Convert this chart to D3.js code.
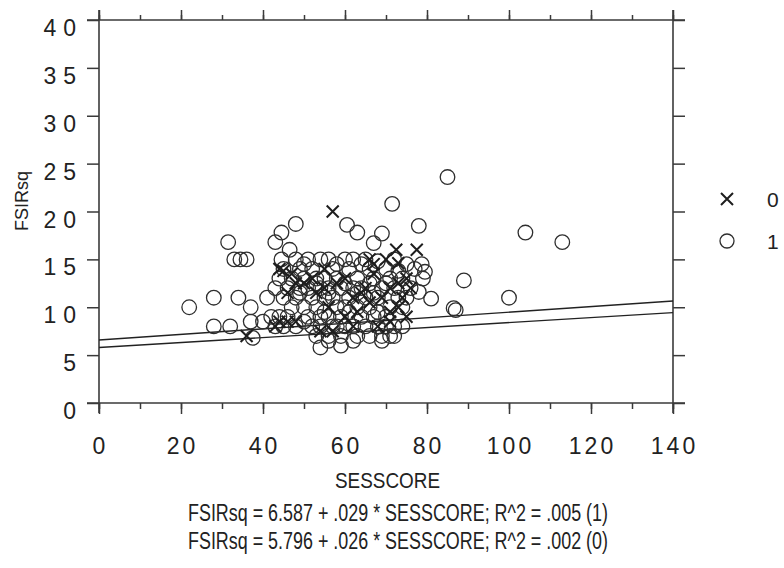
<!DOCTYPE html>
<html>
<head>
<meta charset="utf-8">
<script src="https://cdn.jsdelivr.net/npm/d3@7"></script>
<style>
  html, body { margin: 0; padding: 0; background: #fff; }
  svg { display: block; font-family: "Liberation Sans", Arial, sans-serif; }
</style>
</head>
<body>
<svg id="chart" width="784" height="568"></svg>
<script>
// group 1 (circles): [SESSCORE, FSIRsq]
const group1 = [
  [22, 10], [28, 11], [31.5, 16.8], [33, 15], [34.5, 15], [36, 15], [28, 8], [32, 8],
  [34, 11], [37, 10], [37, 8.5], [37.5, 6.8], [41, 11], [43, 12], [43, 16.8], [44.5, 17.8],
  [48, 18.7], [46.5, 16], [44.5, 15], [48, 15], [42, 9], [40, 8.5],
  [60.5, 18.6], [63, 17.8], [67, 16.7], [69, 17.7], [71.5, 20.8], [85, 23.6], [78, 18.5],
  [78.7, 14.5], [79.5, 13.7], [78, 11.6], [81, 10.9], [89, 12.8], [87, 9.7], [86.5, 9.9],
  [100, 11], [104, 17.8], [113, 16.8],
  [51, 15], [54, 15], [56, 15], [60, 15], [62, 15], [65, 15], [68, 14.8], [72, 15], [75, 14.5], [70, 14],
  [45, 14], [49, 14], [52, 14], [57, 14], [61, 14], [66, 14], [73, 13.8], [77, 14],
  [44, 13], [47, 13], [50, 13], [53, 13], [55, 13], [58, 13], [63, 13], [67, 13], [71, 13], [74, 13], [79, 13],
  [46, 12], [49, 12], [51, 12], [54, 12], [56, 12], [59, 12], [62, 12], [64, 12], [69, 12], [72, 12], [76, 12],
  [45, 11], [48, 11], [52, 11], [55, 11], [57, 11], [61, 11], [65, 11], [68, 11], [73, 11], [75, 11],
  [47, 10], [50, 10], [53, 10], [58, 10], [60, 10], [63, 10], [66, 10], [71, 10], [74, 10],
  [44, 9], [46, 9], [51, 9], [54, 9], [56, 9], [59, 9], [64, 9], [67, 9], [70, 9],
  [43, 8], [45, 8], [48, 8], [52, 8], [54, 8], [57, 8], [58, 8], [60, 8], [62, 8], [65, 8],
  [68, 8], [70, 8], [72, 8], [74, 8],
  [53, 7], [56, 7], [59, 7], [63, 7], [66, 7], [69, 7], [72, 7],
  [54, 5.8], [59, 6], [56, 6.5], [62, 6.5], [69, 6.5], [71, 7],
  [50, 14.5], [58, 14.5], [64, 14.5], [53, 12.5], [60, 12.5], [66, 12.5], [70, 12.5],
  [49, 11.5], [56, 11.5], [63, 11.5], [67, 11.5], [55, 9.5], [61, 9.5], [68, 9.5], [50, 8.5]
];
// group 0 (crosses): [SESSCORE, FSIRsq]
const group0 = [
  [36, 7], [57, 20], [72.5, 16], [77.5, 16], [75, 9], [71, 9.5], [45, 13.8], [47, 13.5],
  [44, 14], [48, 12.5], [46, 11.5], [44, 8.5], [46, 8.5], [48, 8.5], [43, 8], [55, 12],
  [58, 12.5], [60, 13], [62, 11], [65, 12], [67, 13.5], [64, 11.5], [66, 10.5], [69, 11],
  [71, 12], [73, 12.5], [74, 11], [75, 13], [76, 12], [73, 10], [56, 10], [53, 11.5],
  [52, 13], [50, 12.5], [60, 9], [63, 9.5], [67, 14.5], [66, 15], [70, 15], [55, 14],
  [57, 7.5], [62, 8], [68, 8], [71, 8.5], [54, 7.5], [73, 14.6]
];
const groupNames = ["0", "1"];
const intercepts = [5.796, 6.587];
const slopes = [0.026, 0.029];
const equations = [
  "FSIRsq = 6.587 + .029 * SESSCORE; R^2 = .005 (1)",
  "FSIRsq = 5.796 + .026 * SESSCORE; R^2 = .002 (0)"
];
const xTicks = [0, 20, 40, 60, 80, 100, 120, 140];
const yTicks = [0, 5, 10, 15, 20, 25, 30, 35, 40];

const svg = d3.select("#chart");
const ink = "#222";

const x = d3.scaleLinear().domain([0, 140]).range([99, 673]);
const y = d3.scaleLinear().domain([0, 40]).range([403, 20]);

// frame
const frame = svg.append("g").attr("stroke", "#3a3a3a").attr("stroke-width", 1.6).attr("fill", "none");
frame.append("line").attr("x1", x(0) - 12).attr("x2", x(140) + 12).attr("y1", y(40)).attr("y2", y(40));
frame.append("line").attr("x1", x(0) - 12).attr("x2", x(140) + 12).attr("y1", y(0)).attr("y2", y(0));
frame.append("line").attr("x1", x(0)).attr("x2", x(0)).attr("y1", y(40) - 10).attr("y2", y(0) + 10);
frame.append("line").attr("x1", x(140)).attr("x2", x(140)).attr("y1", y(40) - 10).attr("y2", y(0) + 10);

// axes with d3 (ticks only, domain hidden)
const xMinor = d3.range(0, 141, 10);
const axTop = svg.append("g").attr("transform", `translate(0,${y(40)})`)
  .call(d3.axisTop(x).tickValues(xMinor).tickSize(5).tickFormat(""));
const axTopMaj = svg.append("g").attr("transform", `translate(0,${y(40)})`)
  .call(d3.axisTop(x).tickValues(xTicks).tickSize(10).tickFormat(""));
const axBot = svg.append("g").attr("transform", `translate(0,${y(0)})`)
  .call(d3.axisBottom(x).tickValues(xMinor).tickSize(6).tickFormat(""));
const axBotMaj = svg.append("g").attr("transform", `translate(0,${y(0)})`)
  .call(d3.axisBottom(x).tickValues(xTicks).tickSize(11).tickFormat(""));
const axLeft = svg.append("g").attr("transform", `translate(${x(0)},0)`)
  .call(d3.axisLeft(y).tickValues(yTicks).tickSize(12).tickFormat(""));
const axRight = svg.append("g").attr("transform", `translate(${x(140)},0)`)
  .call(d3.axisRight(y).tickValues(yTicks).tickSize(12).tickFormat(""));
[axTop, axTopMaj, axBot, axBotMaj, axLeft, axRight].forEach((g) => {
  g.select(".domain").remove();
  g.selectAll("line").attr("stroke", "#3a3a3a").attr("stroke-width", 1.5);
});

// tick labels
svg.append("g").selectAll("text").data(yTicks).join("text")
  .attr("x", 83).attr("y", (d) => y(d) + 16)
  .attr("text-anchor", "end")
  .attr("font-size", 23).attr("letter-spacing", 7).attr("fill", ink)
  .text((d) => d);
svg.append("g").selectAll("text").data(xTicks).join("text")
  .attr("x", (d) => x(d) + 1.5).attr("y", 454)
  .attr("text-anchor", "middle")
  .attr("font-size", 23).attr("letter-spacing", 3).attr("fill", ink)
  .text((d) => d);

// axis titles
svg.append("text")
  .attr("transform", "translate(28,201) rotate(-90)")
  .attr("text-anchor", "middle").attr("font-size", 18).attr("fill", ink)
  .text("FSIRsq");
svg.append("text")
  .attr("x", 335).attr("y", 488)
  .attr("font-size", 22).attr("fill", ink)
  .attr("textLength", 105).attr("lengthAdjust", "spacingAndGlyphs")
  .text("SESSCORE");

// regression lines
svg.append("g").selectAll("line").data(intercepts).join("line")
  .attr("x1", x(0)).attr("x2", x(140))
  .attr("y1", (d) => y(d))
  .attr("y2", (d, i) => y(d + slopes[i] * 140))
  .attr("stroke", ink).attr("stroke-width", 1.4);

// group 1 circles
svg.append("g").selectAll("circle").data(group1).join("circle")
  .attr("cx", (d) => x(d[0])).attr("cy", (d) => y(d[1]))
  .attr("r", 7.3)
  .attr("fill", "none").attr("stroke", "#2e2e2e").attr("stroke-width", 1.3);

// group 0 crosses
const cross = (g, s) => g.append("path")
  .attr("d", `M${-s},${-s}L${s},${s}M${-s},${s}L${s},${-s}`)
  .attr("fill", "none").attr("stroke", "#1e1e1e").attr("stroke-width", 2);
svg.append("g").selectAll("g").data(group0).join("g")
  .attr("transform", (d) => `translate(${x(d[0])},${y(d[1])})`)
  .each(function () { cross(d3.select(this), 6); });

// legend
const leg = svg.append("g");
cross(leg.append("g").attr("transform", "translate(727,199)"), 6);
leg.append("circle").attr("cx", 727).attr("cy", 241).attr("r", 7)
  .attr("fill", "none").attr("stroke", "#2e2e2e").attr("stroke-width", 1.3);
leg.selectAll("text").data(groupNames).join("text")
  .attr("x", 767).attr("y", (d, i) => 207 + i * 42)
  .attr("font-size", 21).attr("fill", ink)
  .text((d) => d);

// regression equations
svg.append("g").selectAll("text").data(equations).join("text")
  .attr("x", 188).attr("y", (d, i) => 521 + i * 28)
  .attr("font-size", 23).attr("fill", ink)
  .attr("textLength", 420).attr("lengthAdjust", "spacingAndGlyphs")
  .text((d) => d);
</script>
</body>
</html>
